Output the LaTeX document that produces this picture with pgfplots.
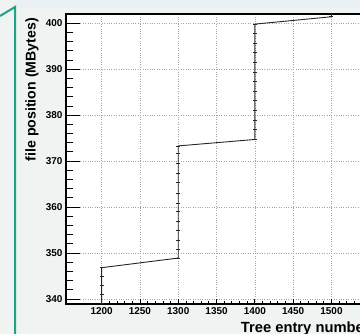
\documentclass[border=0pt]{standalone}
\usepackage{pgfplots}
\pgfplotsset{compat=1.18}
\usepackage{fontspec}
\setmainfont{Liberation Sans}
\definecolor{bgA}{HTML}{EFF4F2}
\definecolor{bgTop}{HTML}{EAF1F4}
\definecolor{teal2}{HTML}{22A283}
\begin{document}
\begin{tikzpicture}[x=1bp,y=1bp]
\useasboundingbox (0,0) rectangle (360,334);
\clip (0,0) rectangle (360,334);
\fill[bgA] (0,0) rectangle (360,334);
\fill[bgTop] (15,326) rectangle (360,334);
\draw[teal2,line width=2bp] (0,318) -- (15,327) -- (15,-2);
\begin{axis}[
  at={(66bp,30bp)}, anchor=south west,
  scale only axis, width=303.8bp, height=290bp,
  xmin=1153.5, xmax=1550, ymin=338.9, ymax=402.0,
  axis background/.style={fill=white},
  axis line style={line width=1.1bp, black},
  xtick={1200,1250,...,1550}, ytick={340,350,...,400},
  xticklabels={1200,1250,1300,1350,1400,1450,1500,{}},
  minor x tick num=4, minor y tick num=4,
  xtick pos=bottom, ytick pos=left,
  tick align=inside,
  xtick style={black, line width=0.8bp, /pgfplots/major tick length=5bp, /pgfplots/minor tick length=3bp},
  ytick style={black, line width=0.8bp, /pgfplots/major tick length=14bp, /pgfplots/minor tick length=7bp},
  grid=major,
  major grid style={dotted, gray!70, line width=0.7bp},
  /pgf/number format/assume math mode=true,
  /pgf/number format/1000 sep={},
  ticklabel style={font=\fontsize{10}{12}\selectfont\bfseries},
  xlabel={Tree entry number},
  ylabel={file position (MBytes)},
  xlabel style={at={(rel axis cs:1,0)}, anchor=base east, inner sep=0pt, yshift=-28.5bp, font=\fontsize{14.8}{16}\selectfont\bfseries},
  ylabel style={at={(rel axis cs:0,1)}, anchor=east, inner sep=0pt, yshift=34bp, xshift=-4bp, font=\fontsize{14.2}{16}\selectfont\bfseries},
  clip=true,
]
\addplot[black!85, line width=0.9bp, mark=-, mark size=2bp, mark options={line width=0.8bp}] coordinates {
(1200,337.2) (1200,339.1) (1200,341.0) (1200,342.9) (1200,344.8) (1200,346.8)
(1300,348.9) (1300,350.7) (1300,352.8) (1300,354.9) (1300,356.8) (1300,359.0)
(1300,360.8) (1300,363.0) (1300,365.3) (1300,367.4) (1300,369.5) (1300,371.6) (1300,373.3)
(1400,374.7) (1400,376.8) (1400,378.9) (1400,381.0) (1400,383.1) (1400,385.2)
(1400,387.3) (1400,389.4) (1400,391.5) (1400,393.6) (1400,395.7) (1400,397.8) (1400,399.8)
(1500,401.4) (1500,403.5)
};
\end{axis}
\end{tikzpicture}
\end{document}
